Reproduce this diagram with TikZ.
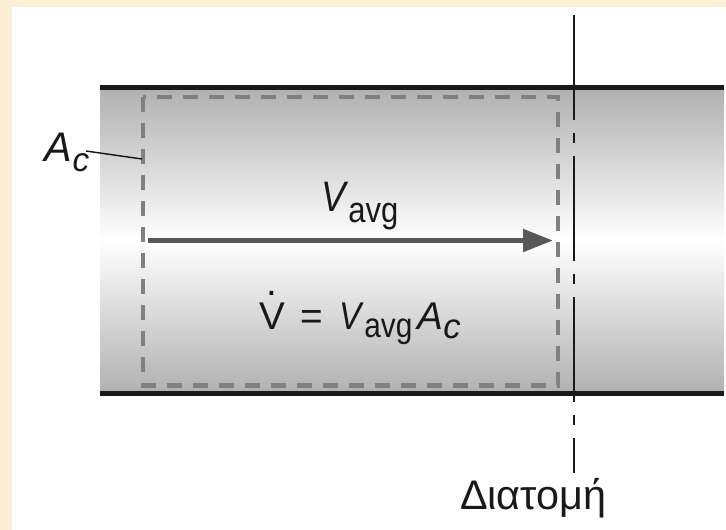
\documentclass[tikz,border=0pt]{standalone}
\usepackage{fontspec}
\setmainfont{Liberation Sans}
\usetikzlibrary{arrows.meta}
\definecolor{cream}{RGB}{252,238,212}
\definecolor{pipegray}{RGB}{176,176,176}
\definecolor{boxgray}{RGB}{128,128,128}
\definecolor{arrowgray}{RGB}{88,88,88}
\definecolor{ink}{RGB}{25,25,25}
\tikzset{
  lbl/.style={anchor=base west, inner sep=0pt, outer sep=0pt, text=ink},
  pipeline/.style={line width=3.75pt, draw=ink},
  cvbox/.style={draw=boxgray, line width=3.3pt, dash pattern=on 11.25pt off 8.25pt},
  flowarrow/.style={draw=arrowgray, line width=3.75pt, -{Triangle[length=22.5pt, width=16.5pt]}},
  section/.style={draw=ink, line width=1.1pt, dash pattern=on 78.75pt off 9.75pt on 7.5pt off 9.75pt},
  leader/.style={draw=ink, line width=1.1pt}
}
\newcommand{\fsz}[1]{\fontsize{#1}{#1}\selectfont}
\newcommand{\narrow}[1]{\scalebox{0.86}[1]{#1}}
\begin{document}
\begin{tikzpicture}[x=0.75pt,y=-0.75pt]
\useasboundingbox (0,0) rectangle (726,530);
\fill[cream] (0,0) rectangle (726,530);
\fill[white] (12,7) rectangle (726,530);
% pipe
\shade[top color=pipegray, bottom color=pipegray, middle color=white] (100,87.5) rectangle (724,394);
\coordinate (ptl) at (100,87.5);
\coordinate (ptr) at (724,87.5);
\coordinate (pbl) at (100,394);
\coordinate (pbr) at (724,394);
\draw[pipeline] (ptl) -- (ptr);
\draw[pipeline] (pbl) -- (pbr);
% control volume
\coordinate (cv1) at (143,97);
\coordinate (cv2) at (558,385.5);
\draw[cvbox] (cv1) rectangle (cv2);
% arrow
\coordinate (a1) at (148,240.5);
\coordinate (a2) at (553,240.5);
\draw[flowarrow] (a1) -- (a2);
% section line
\coordinate (s1) at (574,15);
\coordinate (s2) at (574,473);
\draw[section] (s1) -- (s2);
% labels
\node[lbl] (Ac) at (45,162) {\fsz{31}\itshape A\raisebox{-7.5pt}{\fsz{25}c}};
\coordinate (lead1) at (86,151);
\coordinate (lead2) at (142,159);
\draw[leader] (lead1) -- (lead2);
\node[lbl] (Vavg) at (321,212) {\fsz{32}\narrow{\textit{V}\raisebox{-8pt}{\fsz{27}avg}}};
\node[lbl] (eq) at (259,330) {\fsz{29}\rlap{\hspace{5.6pt}\raisebox{26pt}{.}}V\hspace{4pt} = \hspace{4pt}\narrow{\textit{V}\raisebox{-5.5pt}{\fsz{26}avg}}\hspace{4pt}\textit{A}\raisebox{-6.5pt}{\fsz{26}\itshape c}};
\node[lbl] (sec) at (460,510) {\fsz{31}Διατομή};
\end{tikzpicture}
\end{document}
